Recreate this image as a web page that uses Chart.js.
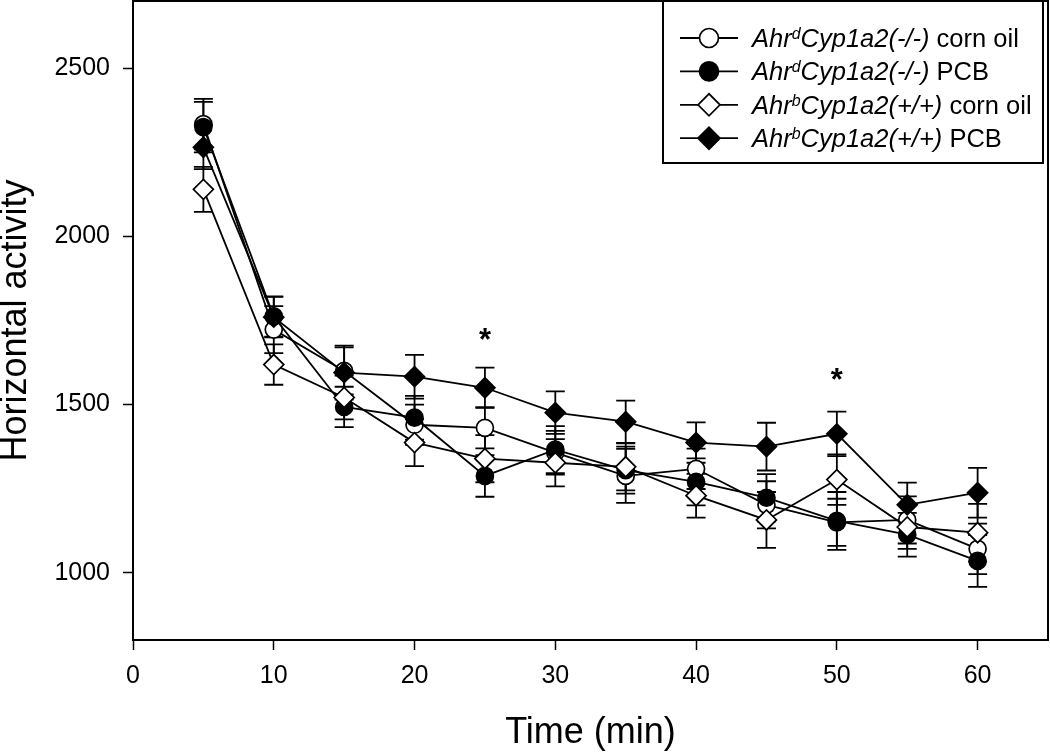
<!DOCTYPE html>
<html>
<head>
<meta charset="utf-8">
<script src="https://cdn.jsdelivr.net/npm/chart.js@4.4.1/dist/chart.umd.min.js"></script>
<style>
  html, body { margin: 0; padding: 0; background: #ffffff; }
  #wrap { width: 1050px; height: 752px; }
</style>
</head>
<body>
<div id="wrap"><canvas id="c" width="1050" height="752"></canvas></div>
<script>
// ---- data ----
const timeMin = [5, 10, 15, 20, 25, 30, 35, 40, 45, 50, 55, 60];

const ahrdCornOil   = [2334, 1723, 1600, 1440, 1431, 1357, 1288, 1309, 1202, 1150, 1157, 1071];
const ahrdCornOilSE = [75, 70, 70, 60, 61, 65, 80, 60, 70, 70, 70, 75];

const ahrdPCB   = [2325, 1762, 1493, 1461, 1288, 1366, 1305, 1270, 1223, 1154, 1113, 1035];
const ahrdPCBSE = [75, 60, 60, 65, 62, 70, 70, 70, 70, 86, 65, 77];

const ahrbCornOil   = [2140, 1619, 1521, 1387, 1339, 1327, 1315, 1229, 1157, 1277, 1136, 1119];
const ahrbCornOilSE = [67, 60, 65, 70, 70, 70, 70, 65, 83, 75, 65, 86];

const ahrbPCB   = [2265, 1760, 1595, 1583, 1550, 1476, 1449, 1387, 1375, 1413, 1202, 1238];
const ahrbPCBSE = [65, 60, 80, 65, 60, 63, 63, 60, 71, 66, 66, 74];

const xTickValues = [0, 10, 20, 30, 40, 50, 60];
const yTickValues = [1000, 1500, 2000, 2500];

const asteriskTimes  = [25, 50];
const asteriskLevels = [1710, 1590];

// legend label pieces: [ahr, superscript, genotype, treatment]
const legendLabels = [
  ['Ahr', 'd', 'Cyp1a2(-/-)', ' corn oil'],
  ['Ahr', 'd', 'Cyp1a2(-/-)', ' PCB'],
  ['Ahr', 'b', 'Cyp1a2(+/+)', ' corn oil'],
  ['Ahr', 'b', 'Cyp1a2(+/+)', ' PCB']
];

const FONT = "'Liberation Sans', Arial, Helvetica, sans-serif";

function pts(vals) { return vals.map((v, i) => ({ x: timeMin[i], y: v })); }

function makeSeries(vals, se, style, fill, radius, order, label) {
  return {
    label: label,
    data: pts(vals),
    errorBars: se,
    borderColor: '#000',
    borderWidth: 1.8,
    backgroundColor: fill,
    pointStyle: style,
    pointRadius: radius,
    pointBorderWidth: 1.7,
    pointBorderColor: '#000',
    pointBackgroundColor: fill,
    tension: 0,
    fill: false,
    order: order
  };
}

const datasets = [
  makeSeries(ahrdCornOil, ahrdCornOilSE, 'circle', '#ffffff', 8.5, 4, legendLabels[0].join('')),
  makeSeries(ahrdPCB, ahrdPCBSE, 'circle', '#000000', 8.5, 3, legendLabels[1].join('')),
  makeSeries(ahrbCornOil, ahrbCornOilSE, 'rectRot', '#ffffff', 10, 2, legendLabels[2].join('')),
  makeSeries(ahrbPCB, ahrbPCBSE, 'rectRot', '#000000', 10, 1, legendLabels[3].join(''))
];

const errorBarPlugin = {
  id: 'errorBars',
  beforeDatasetsDraw(chart) {
    const ctx = chart.ctx;
    const xs = chart.scales.x, ys = chart.scales.y;
    ctx.save();
    ctx.strokeStyle = '#000';
    ctx.lineWidth = 1.8;
    chart.data.datasets.forEach(ds => {
      ds.data.forEach((p, i) => {
        const se = ds.errorBars[i];
        const x = xs.getPixelForValue(p.x);
        const yT = ys.getPixelForValue(p.y + se);
        const yB = ys.getPixelForValue(p.y - se);
        const hw = 9.5;
        ctx.beginPath();
        ctx.moveTo(x, yT); ctx.lineTo(x, yB);
        ctx.moveTo(x - hw, yT); ctx.lineTo(x + hw, yT);
        ctx.moveTo(x - hw, yB); ctx.lineTo(x + hw, yB);
        ctx.stroke();
      });
    });
    ctx.restore();
  }
};

const framePlugin = {
  id: 'frame',
  afterDraw(chart) {
    const { ctx, chartArea: a } = chart;
    ctx.save();
    ctx.strokeStyle = '#000';
    ctx.lineWidth = 2;
    ctx.beginPath();
    ctx.moveTo(a.left, a.top);
    ctx.lineTo(a.right, a.top);
    ctx.lineTo(a.right, a.bottom);
    ctx.stroke();
    ctx.restore();
  }
};

const asteriskPlugin = {
  id: 'asterisks',
  afterDatasetsDraw(chart) {
    const ctx = chart.ctx;
    const xs = chart.scales.x, ys = chart.scales.y;
    ctx.save();
    ctx.fillStyle = '#000';
    ctx.font = 'bold 31px ' + FONT;
    ctx.textAlign = 'center';
    ctx.textBaseline = 'alphabetic';
    asteriskTimes.forEach((t, i) => {
      const x = xs.getPixelForValue(t);
      const y = ys.getPixelForValue(asteriskLevels[i]);
      const m = ctx.measureText('*');
      const asc = m.actualBoundingBoxAscent, desc = m.actualBoundingBoxDescent;
      ctx.fillText('*', x, y + (asc - desc) / 2);
    });
    ctx.restore();
  }
};

const legendPlugin = {
  id: 'customLegend',
  afterDraw(chart) {
    const ctx = chart.ctx;
    const box = { left: 663, top: 1, right: 1043, bottom: 163 };
    ctx.save();
    ctx.fillStyle = '#fff';
    ctx.fillRect(box.left, box.top, box.right - box.left, box.bottom - box.top);
    ctx.strokeStyle = '#000';
    ctx.lineWidth = 2;
    ctx.strokeRect(box.left, box.top, box.right - box.left, box.bottom - box.top);
    const order = [0, 1, 2, 3];
    order.forEach((di, row) => {
      const ds = chart.data.datasets[di];
      const cy = 38 + row * 33.4;
      ctx.strokeStyle = '#000';
      ctx.lineWidth = 1.8;
      ctx.beginPath();
      ctx.moveTo(680, cy); ctx.lineTo(738, cy);
      ctx.stroke();
      ctx.fillStyle = ds.pointBackgroundColor;
      ctx.strokeStyle = '#000';
      ctx.lineWidth = 1.7;
      Chart.helpers.drawPoint(ctx, {
        pointStyle: ds.pointStyle,
        radius: ds.pointStyle === 'circle' ? 9.5 : 11,
        borderWidth: 1.7,
        rotation: 0
      }, 709, cy);
      const parts = legendLabels[di];
      const base = cy + 9;
      let x = 752;
      ctx.fillStyle = '#000';
      ctx.textBaseline = 'alphabetic';
      ctx.textAlign = 'left';
      ctx.font = 'italic 25.5px ' + FONT;
      ctx.fillText(parts[0], x, base); x += ctx.measureText(parts[0]).width;
      ctx.font = 'italic 16px ' + FONT;
      ctx.fillText(parts[1], x, base - 8); x += ctx.measureText(parts[1]).width;
      ctx.font = 'italic 25.5px ' + FONT;
      ctx.fillText(parts[2], x, base); x += ctx.measureText(parts[2]).width;
      ctx.font = '25.5px ' + FONT;
      ctx.fillText(parts[3], x, base);
    });
    ctx.restore();
  }
};

new Chart(document.getElementById('c'), {
  type: 'line',
  data: { datasets: datasets },
  options: {
    responsive: false,
    devicePixelRatio: 1,
    animation: false,
    layout: { autoPadding: false, padding: { top: 1, right: 2, left: 0, bottom: 0 } },
    plugins: {
      legend: { display: false },
      tooltip: { enabled: false }
    },
    scales: {
      x: {
        type: 'linear',
        min: 0, max: 65,
        afterBuildTicks(scale) { scale.ticks = xTickValues.map(v => ({ value: v })); },
        afterFit(scale) { scale.height = 112; scale.paddingLeft = 0; scale.paddingRight = 0; },
        border: { display: true, color: '#000', width: 2 },
        grid: { drawOnChartArea: false, drawTicks: true, tickLength: 10, tickColor: '#000', tickWidth: 1.5 },
        ticks: { color: '#000', font: { family: FONT, size: 25, lineHeight: 1 }, padding: 14, maxRotation: 0,
                 callback: v => String(v) },
        title: { display: true, text: 'Time (min)', color: '#000', font: { family: FONT, size: 36, lineHeight: 1 }, padding: { top: 0, bottom: 1 } }
      },
      y: {
        type: 'linear',
        min: 800, max: 2700,
        afterBuildTicks(scale) { scale.ticks = yTickValues.map(v => ({ value: v })); },
        afterFit(scale) { scale.width = 133; scale.paddingTop = 0; scale.paddingBottom = 0; },
        border: { display: true, color: '#000', width: 2 },
        grid: { drawOnChartArea: false, drawTicks: true, tickLength: 10, tickColor: '#000', tickWidth: 1.5 },
        ticks: { color: '#000', font: { family: FONT, size: 25, lineHeight: 1 }, padding: 13,
                 callback: v => String(v) },
        title: { display: true, text: 'Horizontal activity', color: '#000', font: { family: FONT, size: 36, lineHeight: 0.9 }, padding: { top: 0, bottom: 0 } }
      }
    }
  },
  plugins: [errorBarPlugin, asteriskPlugin, framePlugin, legendPlugin]
});
</script>
</body>
</html>
